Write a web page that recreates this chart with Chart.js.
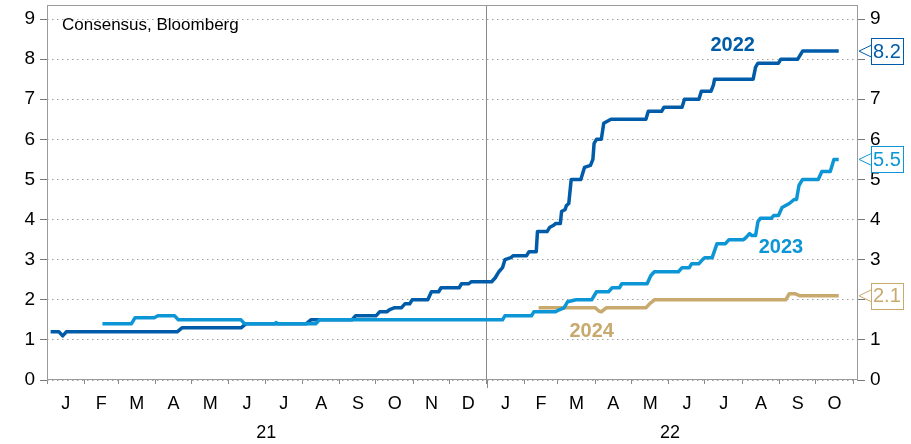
<!DOCTYPE html>
<html>
<head>
<meta charset="utf-8">
<script src="https://cdn.jsdelivr.net/npm/chart.js@4.4.0/dist/chart.umd.min.js"></script>
<style>
  html, body { margin: 0; padding: 0; background: #fff; }
</style>
</head>
<body>
<canvas id="chart" width="911" height="444"></canvas>
<script>
// x values are days counted from 1 Jan 2021
var monthStarts = [0, 31, 59, 90, 120, 151, 181, 212, 243, 273, 304, 334,
                   365, 396, 424, 455, 485, 516, 546, 577, 608, 638, 669];
var monthLetters = ["J","F","M","A","M","J","J","A","S","O","N","D",
                    "J","F","M","A","M","J","J","A","S","O"];
var yearLabels = ["21", "22"];
var yearCentres = [182, 517];
var yTicks = [0, 1, 2, 3, 4, 5, 6, 7, 8, 9];

var days2022 = [3,10,13,16,108,112,161,165,215,219,253,256,273,276,282,284,288,294,297,301,303,316,319,325,327,342,344,350,352,369,372,375,378,380,385,387,398,400,406,407,415,417,420,422,426,427,430,431,433,435,443,446,451,453,454,456,460,462,465,468,497,499,510,512,527,529,541,543,551,553,554,586,588,590,607,609,623,627,657];
var vals2022 = [1.2,1.2,1.1,1.2,1.2,1.3,1.3,1.4,1.4,1.5,1.5,1.6,1.6,1.7,1.7,1.75,1.8,1.8,1.9,1.9,2.0,2.0,2.2,2.2,2.3,2.3,2.4,2.4,2.45,2.45,2.55,2.7,2.8,3.0,3.05,3.1,3.1,3.2,3.2,3.7,3.7,3.8,3.85,3.9,3.9,4.2,4.25,4.35,4.4,5.0,5.0,5.3,5.35,5.5,5.9,6.0,6.0,6.4,6.45,6.5,6.5,6.7,6.7,6.8,6.8,7.0,7.0,7.2,7.2,7.35,7.5,7.5,7.8,7.9,7.9,8.0,8.0,8.2,8.2];

var days2023 = [46,70,73,89,92,106,109,161,164,189,190,192,223,226,378,380,402,404,422,425,429,432,439,452,455,456,466,469,475,477,498,501,504,524,527,533,535,541,544,546,552,556,563,566,578,580,583,585,588,590,592,601,603,607,610,613,616,620,622,624,627,640,643,650,653,657];
var vals2023 = [1.4,1.4,1.55,1.55,1.6,1.6,1.5,1.5,1.4,1.4,1.43,1.4,1.4,1.5,1.5,1.6,1.6,1.7,1.7,1.75,1.8,1.95,2.0,2.0,2.15,2.2,2.2,2.3,2.3,2.4,2.4,2.6,2.7,2.7,2.8,2.8,2.9,2.9,3.0,3.05,3.05,3.4,3.4,3.5,3.5,3.55,3.65,3.6,3.6,3.95,4.03,4.03,4.1,4.1,4.3,4.35,4.4,4.5,4.5,4.85,5.0,5.0,5.2,5.2,5.5,5.5];

var days2024 = [408,455,458,460,462,464,497,500,504,613,616,621,625,657];
var vals2024 = [1.8,1.8,1.72,1.7,1.75,1.8,1.8,1.9,2.0,2.0,2.15,2.15,2.1,2.1];

var col2022 = "#005ca9";
var col2023 = "#0d96d5";
var col2024 = "#c8a96e";
var fontFamily = "'Liberation Sans', Arial, sans-serif";

function points(days, vals) {
    return days.map(function(d, i) { return { x: d, y: vals[i] }; });
}

var monthCentres = monthStarts.slice(0, -1).map(function(v, i) {
    return (v + monthStarts[i + 1]) / 2;
});

var series = [
    { name: "2023", days: days2023, vals: vals2023, color: col2023, labelAt: [609, 3.3] },
    { name: "2022", days: days2022, vals: vals2022, color: col2022, labelAt: [569, 8.35] },
    { name: "2024", days: days2024, vals: vals2024, color: col2024, labelAt: [452, 1.2] }
];

function noPadding(s) {
    s.paddingTop = 0; s.paddingBottom = 0; s.paddingLeft = 0; s.paddingRight = 0;
}

// frame, notes, series names and end-value boxes
var annotate = {
    id: "annotate",
    beforeDatasetsDraw: function(chart) {
        var a = chart.chartArea, ctx = chart.ctx;
        ctx.save();
        ctx.strokeStyle = "#9a9a9a";
        ctx.lineWidth = 1;
        ctx.strokeRect(a.left + 0.5, a.top + 0.5, a.right - a.left - 1, a.bottom - a.top - 1);
        // longer tick at the turn of the year
        var xs = chart.scales.x, yx = Math.round(xs.getPixelForValue(365)) + 0.5;
        ctx.beginPath();
        ctx.moveTo(yx, a.bottom);
        ctx.lineTo(yx, a.bottom + 8);
        ctx.strokeStyle = "#8a8a8a";
        ctx.stroke();
        ctx.restore();
    },
    afterDatasetsDraw: function(chart) {
        var a = chart.chartArea, ctx = chart.ctx;
        var xs = chart.scales.x, ys = chart.scales.y;
        ctx.save();
        ctx.fillStyle = "#000";
        ctx.font = "17px " + fontFamily;
        ctx.textBaseline = "middle";
        ctx.textAlign = "left";
        ctx.fillText("Consensus, Bloomberg", a.left + 15, 25);

        ctx.font = "bold 20px " + fontFamily;
        ctx.textAlign = "center";
        series.forEach(function(s) {
            ctx.fillStyle = s.color;
            ctx.fillText(s.name, xs.getPixelForValue(s.labelAt[0]), ys.getPixelForValue(s.labelAt[1]));
        });

        ctx.font = "20px " + fontFamily;
        ctx.textAlign = "left";
        series.forEach(function(s) {
            var last = s.vals[s.vals.length - 1];
            var y = ys.getPixelForValue(last);
            var bx = a.right + 13, bw = 32, bh = 26;
            var top = Math.round(y - bh / 2) + 0.5;
            ctx.fillStyle = "#fff";
            ctx.fillRect(bx, top, bw, bh);
            ctx.strokeStyle = s.color;
            ctx.lineWidth = 1;
            ctx.strokeRect(bx + 0.5, top, bw, bh);
            ctx.beginPath();
            ctx.moveTo(bx + 0.5, y - 6);
            ctx.lineTo(a.right + 1, y);
            ctx.lineTo(bx + 0.5, y + 6);
            ctx.stroke();
            ctx.fillStyle = s.color;
            ctx.fillText(last.toFixed(1), bx + 2, y + 1);
        });
        ctx.restore();
    }
};

var xMin = 0, xMax = 673;

new Chart(document.getElementById("chart"), {
    type: "line",
    data: {
        datasets: series.map(function(s) {
            return {
                label: s.name,
                data: points(s.days, s.vals),
                borderColor: s.color,
                borderWidth: 3.5,
                pointRadius: 0,
                tension: 0,
                borderJoinStyle: "round",
                fill: false
            };
        })
    },
    options: {
        responsive: false,
        animation: false,
        layout: { padding: { top: 5, bottom: 2, left: 0, right: 0 } },
        plugins: { legend: { display: false }, tooltip: { enabled: false } },
        scales: {
            x: {
                type: "linear", position: "bottom", min: xMin, max: xMax, weight: 0,
                afterBuildTicks: function(s) { s.ticks = monthStarts.map(function(v) { return { value: v }; }); },
                ticks: { display: false },
                grid: {
                    color: function(c) { return c.tick && c.tick.value === 365 ? "#8a8a8a" : "rgba(0,0,0,0)"; },
                    tickColor: "#8a8a8a", tickLength: 4, lineWidth: 1
                },
                border: { display: false },
                afterFit: function(s) { s.height = 6; noPadding(s); }
            },
            xm: {
                type: "linear", position: "bottom", min: xMin, max: xMax, weight: 1,
                afterBuildTicks: function(s) { s.ticks = monthCentres.map(function(v) { return { value: v }; }); },
                ticks: {
                    autoSkip: false, maxRotation: 0, padding: 7, color: "#000",
                    font: { family: fontFamily, size: 18 },
                    callback: function(v, i) { return monthLetters[i]; }
                },
                grid: { display: false, drawTicks: false, tickLength: 0 },
                border: { display: false },
                afterFit: function(s) { s.height = 27; noPadding(s); }
            },
            xy: {
                type: "linear", position: "bottom", min: xMin, max: xMax, weight: 2,
                afterBuildTicks: function(s) { s.ticks = yearCentres.map(function(v) { return { value: v }; }); },
                ticks: {
                    autoSkip: false, maxRotation: 0, padding: 9, color: "#000",
                    font: { family: fontFamily, size: 18 },
                    callback: function(v, i) { return yearLabels[i]; }
                },
                grid: { display: false, drawTicks: false, tickLength: 0 },
                border: { display: false },
                afterFit: function(s) { s.height = 29; noPadding(s); }
            },
            y: {
                position: "left", min: 0, max: 9.35,
                afterBuildTicks: function(s) { s.ticks = yTicks.map(function(v) { return { value: v }; }); },
                ticks: { color: "#000", padding: 5, font: { family: fontFamily, size: 19 } },
                grid: { color: "#a0a0a0", tickColor: "#777", tickLength: 7, borderDash: [1.5, 3.5], tickBorderDash: [] },
                border: { display: false, dash: [1.5, 3.5] },
                afterFit: function(s) { s.width = 47; noPadding(s); }
            },
            y1: {
                position: "right", min: 0, max: 9.35,
                afterBuildTicks: function(s) { s.ticks = yTicks.map(function(v) { return { value: v }; }); },
                ticks: { color: "#000", padding: 5, font: { family: fontFamily, size: 19 } },
                grid: { drawOnChartArea: false, tickColor: "#777", tickLength: 7 },
                border: { display: false },
                afterFit: function(s) { s.width = 53; noPadding(s); }
            }
        }
    },
    plugins: [annotate]
});
</script>
</body>
</html>
